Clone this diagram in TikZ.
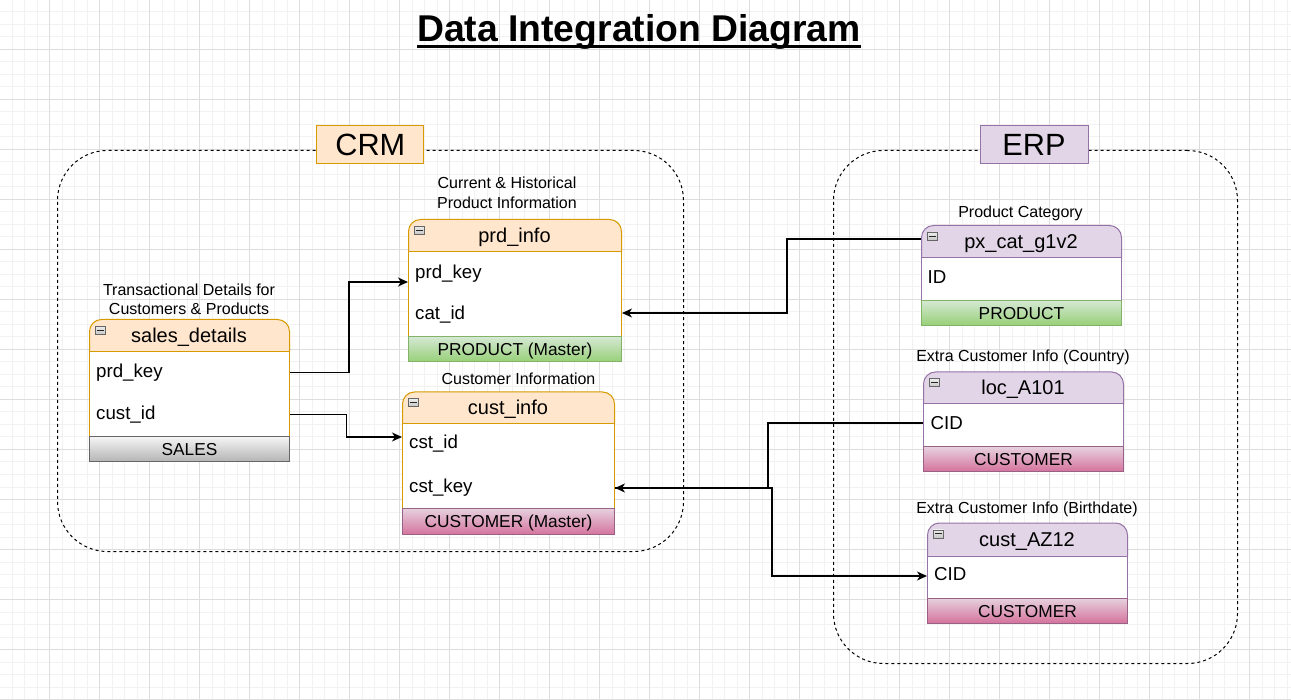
\documentclass[tikz,border=0pt]{standalone}
\usepackage{fontspec}
\setmainfont{Liberation Sans}
\usetikzlibrary{arrows.meta,calc}

\definecolor{ohdr}{HTML}{FFE6CC}
\definecolor{ostk}{HTML}{D79B00}
\definecolor{phdr}{HTML}{E1D5E7}
\definecolor{pstk}{HTML}{9673A6}
\definecolor{gtop}{HTML}{D5E8D4}
\definecolor{gbot}{HTML}{97D077}
\definecolor{gstk}{HTML}{82B366}
\definecolor{ktop}{HTML}{E6D0DE}
\definecolor{kbot}{HTML}{D5739D}
\definecolor{kstk}{HTML}{996185}
\definecolor{stop}{HTML}{F5F5F5}
\definecolor{sbot}{HTML}{B3B3B3}
\definecolor{sstk}{HTML}{666666}
\definecolor{gridmaj}{HTML}{DDDDDD}
\definecolor{gridmin}{HTML}{F2F2F2}

\tikzset{
  hdr/.style 2 args={rectangle, rounded corners=12pt, fill=#1, draw=#2, line width=1pt, anchor=north west, inner sep=0pt},
  tbody/.style={rectangle, fill=white, draw=#1, line width=1pt, anchor=north west, inner sep=0pt},
  foot/.style n args={3}{rectangle, top color=#1, bottom color=#2, draw=#3, line width=1pt, anchor=north west, inner sep=0pt,
    font=\fontsize{17.3}{20}\selectfont, text height=12.5pt, text depth=0pt},
  htitle/.style={inner sep=0pt, font=\fontsize{20}{24}\selectfont, text height=14.4pt, text depth=0pt},
  field/.style={inner sep=0pt, anchor=west, font=\fontsize{18.7}{22}\selectfont, text height=13.4pt, text depth=0pt},
  ann/.style={inner sep=0pt, align=center, font=\fontsize{16}{19.5}\selectfont},
  ann1/.style={inner sep=0pt, font=\fontsize{16}{19.5}\selectfont, text height=11.5pt, text depth=0pt},
  icon/.style={rectangle, anchor=north west, minimum width=10pt, minimum height=8pt, inner sep=0pt,
    top color=gray!15, bottom color=gray!45, draw=gray!80!black, line width=0.7pt},
  iconbar/.style={line width=1.2pt, draw=gray!30!black},
  region/.style={rectangle, draw=black, dash pattern=on 3pt off 3pt, line width=1pt, rounded corners=50pt,
    anchor=north west, inner sep=0pt},
  lbl/.style={rectangle, line width=1pt, minimum width=107pt, minimum height=38pt, inner sep=0pt,
    font=\fontsize{30.7}{36}\selectfont, text height=22pt, text depth=0pt},
  conn/.style={draw=black, line width=1.3pt, -{Stealth[length=10pt,width=9pt,inset=3pt]}},
  plain/.style={draw=black, line width=1.3pt},
  gmin/.style={draw=gridmin, line width=1pt},
  gmaj/.style={draw=gridmaj, line width=1pt},
}

\begin{document}
\begin{tikzpicture}[x=1pt,y=-1pt]
\useasboundingbox (0,0) rectangle (1291,700);
\fill[white] (0,0) rectangle (1291,700);
% grid
\foreach \i in {0,...,104} {\draw[gmin] ({-0.5+12.5*\i},0) -- ({-0.5+12.5*\i},700);}
\foreach \i in {0,...,56} {\draw[gmin] (0,{-0.5+12.5*\i}) -- (1291,{-0.5+12.5*\i});}
\foreach \i in {0,...,26} {\draw[gmaj] ({-0.5+50*\i},0) -- ({-0.5+50*\i},700);}
\foreach \i in {0,...,14} {\draw[gmaj] (0,{-0.5+50*\i}) -- (1291,{-0.5+50*\i});}

% title
\node[inner sep=0pt, anchor=base, font=\fontsize{37.3}{44}\selectfont\bfseries] (title) at (639,41.5) {Data Integration Diagram};
\draw[line width=2.7pt] ($(title.base west)+(0,5.2)$) -- ($(title.base east)+(0,5.2)$);

% regions
\node[region, minimum width=626pt, minimum height=401pt] (crm) at (57,150) {};
\node[region, minimum width=404pt, minimum height=513pt] (erp) at (833,150) {};
\node[lbl, fill=ohdr, draw=ostk] (crm-l) at (370.3,145) {CRM};
\node[lbl, fill=phdr, draw=pstk, minimum width=108pt] (erp-l) at (1034,145) {ERP};

% ---------- sales_details
\node[ann] (sd-a) at (189,299.5) {Transactional Details for\\Customers \& Products};
\node[hdr={ohdr}{ostk}, minimum width=200pt, minimum height=44.5pt] (sd) at (89,319) {};
\node[tbody=ostk, minimum width=200pt, minimum height=84.5pt] (sd-body) at (89,351.5) {};
\node[foot={stop}{sbot}{sstk}, minimum width=200pt, minimum height=25.5pt] (sd-foot) at (89,436) {SALES};
\node[htitle] (sd-t) at (189,335) {sales\_details};
\node[icon] (sd-i) at (95,326) {};
\draw[iconbar] ($(sd-i.west)+(2,0)$) -- ($(sd-i.east)+(-2,0)$);
\node[field] (sd-prd) at (96,371) {prd\_key};
\node[field] (sd-cust) at (96,413) {cust\_id};

% ---------- prd_info
\node[ann] (pi-a) at (507,193) {Current \& Historical\\Product Information};
\node[hdr={ohdr}{ostk}, minimum width=213pt, minimum height=44pt] (pi) at (408,219) {};
\node[tbody=ostk, minimum width=213pt, minimum height=85pt] (pi-body) at (408,251) {};
\node[foot={gtop}{gbot}{gstk}, minimum width=213pt, minimum height=25.5pt] (pi-foot) at (408,336) {PRODUCT (Master)};
\node[htitle] (pi-t) at (514.5,235) {prd\_info};
\node[icon] (pi-i) at (414,226) {};
\draw[iconbar] ($(pi-i.west)+(2,0)$) -- ($(pi-i.east)+(-2,0)$);
\node[field] (pi-prd) at (415,272) {prd\_key};
\node[field] (pi-cat) at (415,313) {cat\_id};

% ---------- cust_info
\node[ann1] (ci-a) at (518.5,379) {Customer Information};
\node[hdr={ohdr}{ostk}, minimum width=212pt, minimum height=44pt] (ci) at (402,391.5) {};
\node[tbody=ostk, minimum width=212pt, minimum height=84.5pt] (ci-body) at (402,423.5) {};
\node[foot={ktop}{kbot}{kstk}, minimum width=212pt, minimum height=26pt] (ci-foot) at (402,508) {CUSTOMER (Master)};
\node[htitle] (ci-t) at (508,407.5) {cust\_info};
\node[icon] (ci-i) at (408,398.5) {};
\draw[iconbar] ($(ci-i.west)+(2,0)$) -- ($(ci-i.east)+(-2,0)$);
\node[field] (ci-id) at (409,442) {cst\_id};
\node[field] (ci-key) at (409,486) {cst\_key};

% ---------- px_cat_g1v2
\node[ann1] (px-a) at (1020.5,212) {Product Category};
\node[hdr={phdr}{pstk}, minimum width=200pt, minimum height=44.5pt] (px) at (921,225) {};
\node[tbody=pstk, minimum width=200pt, minimum height=42.5pt] (px-body) at (921,257.5) {};
\node[foot={gtop}{gbot}{gstk}, minimum width=200pt, minimum height=25pt] (px-foot) at (921,300) {PRODUCT};
\node[htitle] (px-t) at (1021,241) {px\_cat\_g1v2};
\node[icon] (px-i) at (927,232) {};
\draw[iconbar] ($(px-i.west)+(2,0)$) -- ($(px-i.east)+(-2,0)$);
\node[field] (px-id) at (927.5,277) {ID};

% ---------- loc_A101
\node[ann1] (loc-a) at (1023,356) {Extra Customer Info (Country)};
\node[hdr={phdr}{pstk}, minimum width=200pt, minimum height=44pt] (loc) at (923,371.5) {};
\node[tbody=pstk, minimum width=200pt, minimum height=43pt] (loc-body) at (923,403.5) {};
\node[foot={ktop}{kbot}{kstk}, minimum width=200pt, minimum height=24.5pt] (loc-foot) at (923,446.5) {CUSTOMER};
\node[htitle] (loc-t) at (1023,387.5) {loc\_A101};
\node[icon] (loc-i) at (929,378.5) {};
\draw[iconbar] ($(loc-i.west)+(2,0)$) -- ($(loc-i.east)+(-2,0)$);
\node[field] (loc-cid) at (930.5,423) {CID};

% ---------- cust_AZ12
\node[ann1] (az-a) at (1027,508) {Extra Customer Info (Birthdate)};
\node[hdr={phdr}{pstk}, minimum width=200pt, minimum height=45.5pt] (az) at (927,522.5) {};
\node[tbody=pstk, minimum width=200pt, minimum height=42pt] (az-body) at (927,556) {};
\node[foot={ktop}{kbot}{kstk}, minimum width=200pt, minimum height=24.5pt] (az-foot) at (927,598) {CUSTOMER};
\node[htitle] (az-t) at (1027,539) {cust\_AZ12};
\node[icon] (az-i) at (933,529.5) {};
\draw[iconbar] ($(az-i.west)+(2,0)$) -- ($(az-i.east)+(-2,0)$);
\node[field] (az-cid) at (934,574) {CID};

% ---------- connectors
\draw[conn] ($(sd-body.east |- sd-prd)+(0,1.5)$) -- ++(59,0) |- ($(pi-body.west |- pi-prd)+(0,10)$);
\draw[conn] ($(sd-body.east |- sd-cust)+(0,1.5)$) -- ++(56.5,0) |- ($(ci-body.west |- ci-id)+(0,-5)$);
\draw[conn] ($(px-t -| px-body.west)+(0,-2)$) -- ++(-134,0) |- (pi-body.east |- pi-cat);
\draw[conn] (loc-body.west |- loc-cid) -- ++(-155,0) |- ($(ci-body.east |- ci-key)+(0,2)$);
\draw[conn] ($(ci-body.east |- ci-key)+(0,2)$) -- ++(157,0) |- ($(az-body.west |- az-cid)+(0,2)$);
\end{tikzpicture}
\end{document}
